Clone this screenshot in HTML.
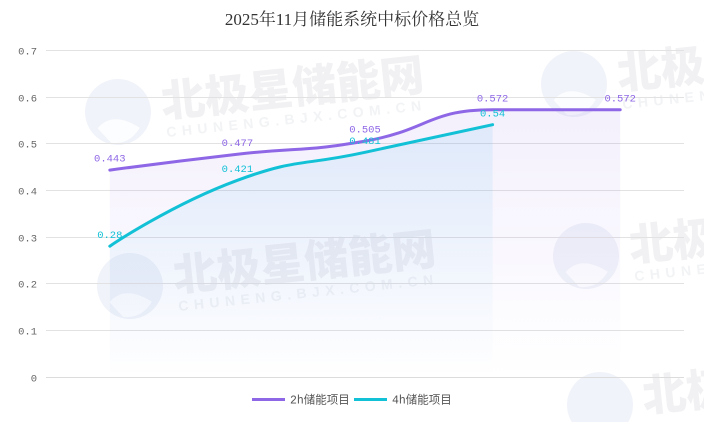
<!DOCTYPE html>
<html><head><meta charset="utf-8">
<style>
html,body{margin:0;padding:0;background:#fff;width:704px;height:422px;overflow:hidden;}
svg{display:block;overflow:hidden;}
</style></head>
<body>
<svg width="704" height="422" viewBox="0 0 704 422" xmlns="http://www.w3.org/2000/svg">
<defs>
<clipPath id="clip"><rect x="0" y="0" width="704" height="422"/></clipPath>
<linearGradient id="gp" x1="0" y1="109.8" x2="0" y2="377" gradientUnits="userSpaceOnUse">
<stop offset="0" stop-color="#8e67e6" stop-opacity="0.10"/>
<stop offset="1" stop-color="#8e67e6" stop-opacity="0"/>
</linearGradient>
<linearGradient id="gc" x1="0" y1="124.7" x2="0" y2="377" gradientUnits="userSpaceOnUse">
<stop offset="0" stop-color="#40b0e8" stop-opacity="0.12"/>
<stop offset="1" stop-color="#40b0e8" stop-opacity="0"/>
</linearGradient>
<g id="wm">
<circle cx="0" cy="0" r="33" fill="#f0f3f9"/>
<path d="M-22,14 Q-5,-2 20,18 Q8,34 -10,30 Z" fill="#ffffff" opacity="0.8"/>
<text x="44" y="10" font-family="'Liberation Sans','Noto Sans CJK SC',sans-serif" font-weight="900" font-size="44" fill="#f1f1f3">北极星储能网</text>
<text x="46" y="30" font-family="'Liberation Sans',sans-serif" font-weight="bold" font-size="14" letter-spacing="5.5" fill="#f2f3f5">CHUNENG.BJX.COM.CN</text>
</g>
</defs>

<g clip-path="url(#clip)">
<!-- watermarks -->
<use href="#wm" transform="translate(118,112) rotate(-6)"/>
<use href="#wm" transform="translate(130,286) rotate(-6)"/>
<use href="#wm" transform="translate(574,84) rotate(-6)"/>
<use href="#wm" transform="translate(586,256) rotate(-6)"/>
<path d="M571.7,422 A33,33 0 1,1 628.3,422 Z" fill="#f0f3f9"/>
<text x="644" y="412" transform="rotate(-6 644 412)" font-family="'Liberation Sans','Noto Sans CJK SC',sans-serif" font-weight="900" font-size="44" fill="#f1f1f3">北极星</text>
</g>

<!-- title -->
<text x="352" y="25" text-anchor="middle" font-family="'Liberation Serif','Noto Serif CJK SC',serif" font-size="17" fill="#333">2025年11月储能系统中标价格总览</text>

<!-- grid -->
<g stroke="#e2e2e2" stroke-width="1">
<line x1="46" y1="50.5" x2="684" y2="50.5"/>
<line x1="46" y1="97.5" x2="684" y2="97.5"/>
<line x1="46" y1="143.5" x2="684" y2="143.5"/>
<line x1="46" y1="190.5" x2="684" y2="190.5"/>
<line x1="46" y1="237.5" x2="684" y2="237.5"/>
<line x1="46" y1="283.5" x2="684" y2="283.5"/>
<line x1="46" y1="330.5" x2="684" y2="330.5"/>
<line x1="46" y1="377.5" x2="684" y2="377.5" stroke="#dcdcdc"/>
</g>

<!-- y labels -->
<g font-family="'Liberation Mono',monospace" font-size="10.5" fill="#666" text-anchor="end">
<text x="37" y="54.5">0.7</text>
<text x="37" y="101.5">0.6</text>
<text x="37" y="147.5">0.5</text>
<text x="37" y="194.5">0.4</text>
<text x="37" y="241.5">0.3</text>
<text x="37" y="287.5">0.2</text>
<text x="37" y="334.5">0.1</text>
<text x="37" y="381.5">0</text>
</g>

<!-- areas -->
<path d="M109.8,170.1 C109.8,170.1 173.5,161.5 237.4,154.2 C301.1,147.0 301.9,152.1 365,141.1 C429.6,129.9 427.8,109.8 492.6,109.8 C555.5,109.8 620.2,109.8 620.2,109.8 L620.2,377 L109.8,377 Z" fill="url(#gp)"/>
<path d="M109.8,246.2 C109.8,246.2 170.55,204.9 237.4,180.3 C298.2,157.9 301.2,166.2 365,152.3 C428.8,138.4 492.6,124.7 492.6,124.7 L492.6,377 L109.8,377 Z" fill="url(#gc)"/>

<!-- lines -->
<path d="M109.8,170.1 C109.8,170.1 173.5,161.5 237.4,154.2 C301.1,147.0 301.9,152.1 365,141.1 C429.6,129.9 427.8,109.8 492.6,109.8 C555.5,109.8 620.2,109.8 620.2,109.8" fill="none" stroke="#8e67e6" stroke-width="3" stroke-linecap="round" stroke-linejoin="round"/>
<path d="M109.8,246.2 C109.8,246.2 170.55,204.9 237.4,180.3 C298.2,157.9 301.2,166.2 365,152.3 C428.8,138.4 492.6,124.7 492.6,124.7" fill="none" stroke="#12c1d6" stroke-width="3" stroke-linecap="round" stroke-linejoin="round"/>

<!-- labels -->
<g font-family="'Liberation Mono',monospace" font-size="10.5" text-anchor="middle">
<g fill="#8e67e6">
<text x="109.8" y="161.7">0.443</text>
<text x="237.4" y="145.8">0.477</text>
<text x="365" y="132.7">0.505</text>
<text x="492.6" y="101.4">0.572</text>
<text x="620.2" y="101.4">0.572</text>
</g>
<g fill="#12c1d6">
<text x="109.8" y="237.8">0.28</text>
<text x="237.4" y="171.9">0.421</text>
<text x="365" y="143.9">0.481</text>
<text x="492.6" y="116.3">0.54</text>
</g>
</g>

<!-- legend -->
<line x1="252" y1="399.5" x2="285" y2="399.5" stroke="#8e67e6" stroke-width="3"/>
<text x="290" y="403.5" font-family="'Liberation Mono','Noto Sans CJK SC',sans-serif" font-size="11.5" fill="#555">2h储能项目</text>
<line x1="354" y1="399.5" x2="387" y2="399.5" stroke="#12c1d6" stroke-width="3"/>
<text x="392" y="403.5" font-family="'Liberation Mono','Noto Sans CJK SC',sans-serif" font-size="11.5" fill="#555">4h储能项目</text>
</svg>
</body></html>
